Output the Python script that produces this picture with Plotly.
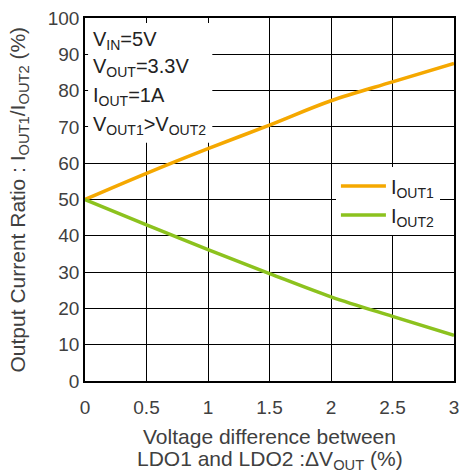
import plotly.graph_objects as go

dv = [0, 0.5, 1, 1.5, 2, 2.5, 3]
iout1 = [50, 57.2, 64.0, 70.5, 77.2, 82.4, 87.5]
iout2 = [50, 43.0, 36.2, 29.6, 23.2, 17.8, 12.6]
xticks = [0, 0.5, 1, 1.5, 2, 2.5, 3]
xticklabels = ["0", "0.5", "1", "1.5", "2", "2.5", "3"]
yticks = list(range(0, 101, 10))
cond_labels = ["V<sub>IN</sub>=5V", "V<sub>OUT</sub>=3.3V", "I<sub>OUT</sub>=1A", "V<sub>OUT1</sub>>V<sub>OUT2</sub>"]
cond_y = [93.8, 86.3, 78.4, 70.5]

FONT = "Liberation Sans, Arial, sans-serif"
GREY = "#404040"

fig = go.Figure()
fig.add_trace(go.Scatter(x=dv, y=iout1, mode="lines", line=dict(color="#F5A800", width=3.5, shape="spline"),
                         name="I<sub>OUT1</sub>"))
fig.add_trace(go.Scatter(x=dv, y=iout2, mode="lines", line=dict(color="#8CC21E", width=3.5, shape="spline"),
                         name="I<sub>OUT2</sub>"))

fig.update_layout(
    width=463, height=474,
    margin=dict(l=85, r=4, t=18, b=93),
    paper_bgcolor="white", plot_bgcolor="white",
    font=dict(family=FONT, size=19, color=GREY),
    showlegend=True,
    legend=dict(x=0.68, y=0.497, xanchor="left", yanchor="middle", bgcolor="white",
                font=dict(size=20, color="#222"), tracegroupgap=0, itemwidth=45),
    xaxis=dict(range=[0, 3], tickvals=xticks, ticktext=xticklabels, showgrid=True, gridcolor="black", gridwidth=1,
               showline=True, linecolor="black", linewidth=1.5, mirror=True, ticks="",
               zeroline=False, tickfont=dict(size=19, color=GREY), ticklabelstandoff=8),
    yaxis=dict(range=[0, 100], tickvals=yticks, showgrid=True, gridcolor="black", gridwidth=1,
               showline=True, linecolor="black", linewidth=1.5, mirror=True, ticks="",
               zeroline=False, tickfont=dict(size=19, color=GREY)),
)

# axis titles
fig.add_annotation(x=0.5, y=0, xref="paper", yref="paper", yshift=-55, showarrow=False,
                   text="Voltage difference between", font=dict(size=21, color=GREY),
                   xanchor="center", yanchor="middle")
fig.add_annotation(x=0.5, y=0, xref="paper", yref="paper", yshift=-79, showarrow=False,
                   text="LDO1 and LDO2 :ΔV<sub>OUT</sub> (%)", font=dict(size=21, color=GREY),
                   xanchor="center", yanchor="middle")
fig.add_annotation(x=0, y=0.5, xref="paper", yref="paper", xshift=-67, showarrow=False, textangle=-90,
                   text="Output Current Ratio : I<sub>OUT1</sub>/I<sub>OUT2</sub> (%)",
                   font=dict(size=21, color=GREY), xanchor="center", yanchor="middle")

# white box behind the conditions text
fig.add_shape(type="rect", xref="x", yref="y", x0=0.025, x1=1.035, y0=65.6, y1=98.6,
              fillcolor="white", line=dict(width=0), layer="between")
for t, yv in zip(cond_labels, cond_y):
    fig.add_annotation(x=0.048, y=yv, xref="x", yref="y", text=t, showarrow=False, xanchor="left",
                       yanchor="middle", font=dict(size=20, color="#222"))

fig.write_html("out.html")
